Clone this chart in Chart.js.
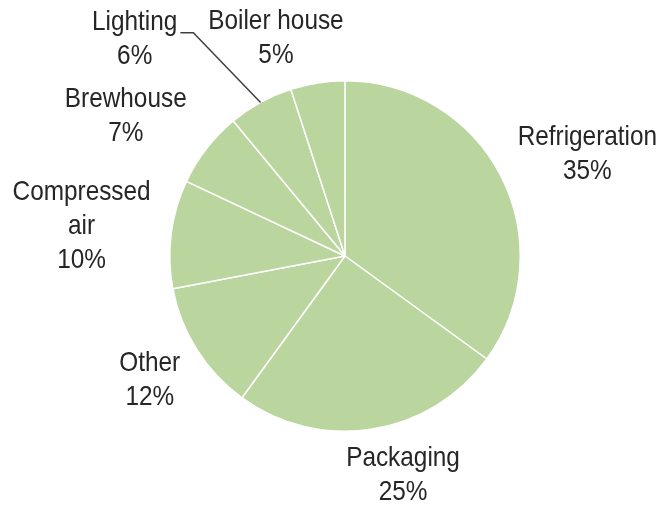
<!DOCTYPE html>
<html>
<head>
<meta charset="utf-8">
<script src="https://cdn.jsdelivr.net/npm/chart.js@4"></script>
<style>
  html, body { margin: 0; padding: 0; background: #ffffff; }
  #wrap { width: 662px; height: 505px; }
</style>
</head>
<body>
<div id="wrap"><canvas id="c" width="662" height="505"></canvas></div>
<script>
// ---- data ----
const categories = ["Refrigeration", "Packaging", "Other", "Compressed air", "Brewhouse", "Lighting", "Boiler house"];
const labelLines = [["Refrigeration"], ["Packaging"], ["Other"], ["Compressed", "air"], ["Brewhouse"], ["Lighting"], ["Boiler house"]];
const shares = [35, 25, 12, 10, 7, 6, 5];

// ---- label placement (relative to pie centre, in units of radius) ----
const labelOffsets = [
  [1.383, -0.580],
  [0.331, 1.252],
  [-1.114, 0.709],
  [-1.503, -0.171],
  [-1.251, -0.800],
  [-1.200, -1.234],
  [-0.394, -1.243]
];
const leaderFor = [false, false, false, false, false, true, false];

const FONT_SIZE = 28;
const X_SCALE = 0.87;
const LINE_H = 34;

const pieLabels = {
  id: 'pieLabels',
  afterDatasetsDraw(chart) {
    const ctx = chart.ctx;
    const meta = chart.getDatasetMeta(0);
    ctx.save();
    ctx.font = FONT_SIZE + 'px "Liberation Sans", Arial, sans-serif';
    ctx.fillStyle = '#262626';
    ctx.textAlign = 'center';
    ctx.textBaseline = 'middle';
    meta.data.forEach((arc, i) => {
      const p = arc.getProps(['x', 'y', 'startAngle', 'endAngle', 'outerRadius'], true);
      const r = p.outerRadius;
      const cx = p.x + labelOffsets[i][0] * r;
      const cy = p.y + labelOffsets[i][1] * r;
      const lines = labelLines[i].concat([shares[i] + '%']);
      const top = cy - (lines.length - 1) * LINE_H / 2;
      lines.forEach((ln, k) => {
        ctx.save();
        ctx.translate(cx, top + k * LINE_H);
        ctx.scale(X_SCALE, 1);
        ctx.fillText(ln, 0, 0);
        ctx.restore();
      });
      if (leaderFor[i]) {
        const w = ctx.measureText(labelLines[i][0]).width * X_SCALE;
        const x0 = cx + w / 2 + 3;
        const y0 = top + 10;
        const mid = (p.startAngle + p.endAngle) / 2;
        const ex = p.x + Math.cos(mid) * r;
        const ey = p.y + Math.sin(mid) * r;
        ctx.beginPath();
        ctx.strokeStyle = '#404040';
        ctx.lineWidth = 1.5;
        ctx.moveTo(x0, y0);
        ctx.lineTo(x0 + 13, y0);
        ctx.lineTo(ex, ey);
        ctx.stroke();
      }
    });
    ctx.restore();
  }
};

new Chart(document.getElementById('c'), {
  type: 'pie',
  data: {
    labels: categories,
    datasets: [{
      data: shares,
      backgroundColor: '#bad69e',
      borderColor: '#ffffff',
      borderWidth: 1.5
    }]
  },
  options: {
    responsive: false,
    animation: false,
    layout: { padding: { left: 169, right: 141, top: 80, bottom: 73 } },
    plugins: {
      legend: { display: false },
      tooltip: { enabled: false }
    }
  },
  plugins: [pieLabels]
});
</script>
</body>
</html>
